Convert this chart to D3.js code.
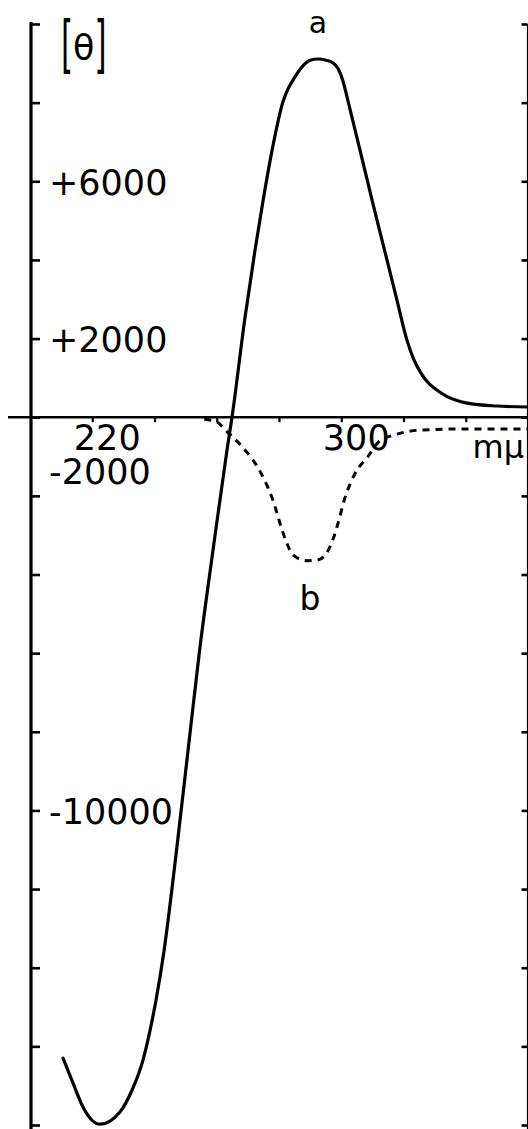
<!DOCTYPE html>
<html>
<head>
<meta charset="utf-8">
<script src="https://cdn.jsdelivr.net/npm/d3@7"></script>
<style>
  html, body { margin: 0; padding: 0; background: #fff; }
  svg { display: block; }
  text { font-family: "DejaVu Sans", sans-serif; fill: #000; }
</style>
</head>
<body>
<svg id="chart" width="528" height="1129"></svg>
<script>
// ---- data ----
const wavelengthsA = [210.6, 213.8, 217.0, 222.5, 228.9, 232.8, 236.3, 238.6, 240.5, 243.1, 247.1, 250.8, 254.5, 258.8, 263.3, 264.9, 269.1, 272.3, 274.9, 277.8, 281.3, 282.9, 285.1, 287.4, 290.0, 292.5, 295.1, 297.4, 299.0, 300.6, 302.2, 306.0, 309.9, 313.9, 317.9, 321.1, 323.4, 325.6, 332.1, 340.4, 350.0, 360.0];
const thetaA = [-16300, -16930, -17540, -17980, -17670, -17110, -16350, -15580, -14820, -13550, -11000, -8460, -5920, -3380, -830, 0, 2550, 4250, 5520, 6800, 8030, 8350, 8650, 8910, 9080, 9110, 9080, 9010, 8860, 8540, 8030, 6800, 5520, 4250, 2980, 1960, 1450, 1120, 615, 360, 285, 260];

const wavelengthsB = [256, 260, 263.5, 268.5, 274, 278, 281, 282.5, 284.5, 289, 292.5, 295.5, 297.5, 299, 301, 304.5, 308.5, 312, 318, 325, 338, 360];
const thetaB = [-50, -120, -380, -780, -1390, -2100, -2870, -3200, -3500, -3650, -3630, -3430, -3070, -2690, -2100, -1420, -1010, -630, -430, -330, -300, -300];

const yTickValues = [10000, 8000, 6000, 4000, 2000, 0, -2000, -4000, -6000, -8000, -10000, -12000, -14000, -16000, -18000];
const yTickLabels = [6000, 2000, -2000, -10000];
const xTickValues = [220, 240, 260, 280, 300, 320, 340];
const xTickLabels = [220, 300];
const seriesNames = ["a", "b"];
const yAxisTitle = "θ";
const xUnit = "mμ";

// ---- scales ----
const svg = d3.select("#chart");
const x = d3.scaleLinear().domain([200, 360]).range([30, 528]);
const y = d3.scaleLinear().domain([-18000, 10000]).range([1125, 24]);

// left axis
const leftAxis = svg.append("g").attr("transform", `translate(${x(200) + 1},0)`)
  .call(d3.axisRight(y).tickValues(yTickValues).tickSize(9).tickFormat(""));
leftAxis.select(".domain").attr("d", `M0,${y(10000) - 2}V1129`).attr("stroke-width", 3.2);
leftAxis.selectAll(".tick line").attr("stroke-width", 2.6);

// right axis
const rightAxis = svg.append("g").attr("transform", `translate(527.5,0)`)
  .call(d3.axisLeft(y).tickValues(yTickValues).tickSize(6).tickFormat(""));
rightAxis.select(".domain").attr("d", `M0,${y(10000)}V1129`).attr("stroke-width", 1.2);
rightAxis.selectAll(".tick line").attr("stroke-width", 2.6);

// zero line with small downward ticks
const xAxis = svg.append("g").attr("transform", `translate(0,${y(0)})`)
  .call(d3.axisBottom(x).tickValues(xTickValues).tickSize(5).tickFormat(""));
xAxis.select(".domain").attr("d", `M8,0H528`).attr("stroke-width", 2.4);
xAxis.selectAll(".tick line").attr("stroke-width", 2.2);

// y tick labels
const yLabelShift = v => (v === -2000 ? -12 : 13.5);
svg.selectAll("text.ylab").data(yTickLabels).join("text")
  .attr("class", "ylab")
  .attr("x", 49)
  .attr("y", d => y(d) + yLabelShift(d))
  .attr("font-size", 35)
  .text(d => (d > 0 ? "+" : "-") + Math.abs(d));

// x tick labels
svg.selectAll("text.xlab").data(xTickLabels).join("text")
  .attr("class", "xlab")
  .attr("x", d => x(d) + 15)
  .attr("y", y(0) + 33)
  .attr("text-anchor", "middle")
  .attr("font-size", 35)
  .text(d => d);

// unit
svg.append("text")
  .attr("x", x(360) - 4)
  .attr("y", y(0) + 41)
  .attr("text-anchor", "end")
  .attr("font-size", 32)
  .text(xUnit);

// [θ] title: condensed tall brackets around theta
svg.append("text").attr("transform", "translate(61,65) scale(0.5,1)")
  .attr("font-size", 62).text("[");
svg.append("text").attr("x", 73).attr("y", 60)
  .attr("font-size", 35).text(yAxisTitle);
svg.append("text").attr("transform", "translate(94.5,65) scale(0.5,1)")
  .attr("font-size", 62).text("]");

// curves
const line = d3.line().x(d => x(d[0])).y(d => y(d[1])).curve(d3.curveMonotoneX);
const dataA = wavelengthsA.map((w, i) => [w, thetaA[i]]);
const dataB = wavelengthsB.map((w, i) => [w, thetaB[i]]);

svg.append("path").datum(dataA).attr("d", line)
  .attr("fill", "none").attr("stroke", "#000").attr("stroke-width", 3.2)
  .attr("stroke-linecap", "round").attr("stroke-linejoin", "round");

svg.append("path").datum(dataB).attr("d", line)
  .attr("fill", "none").attr("stroke", "#000").attr("stroke-width", 3)
  .attr("stroke-dasharray", "7,6");

// series labels
const peakA = dataA.reduce((m, d) => (d[1] > m[1] ? d : m));
const minB = dataB.reduce((m, d) => (d[1] < m[1] ? d : m));
svg.append("text").attr("x", x(peakA[0])).attr("y", y(peakA[1]) - 26)
  .attr("text-anchor", "middle").attr("font-size", 30).text(seriesNames[0]);
svg.append("text").attr("x", x(minB[0]) + 3).attr("y", y(minB[1]) + 49)
  .attr("text-anchor", "middle").attr("font-size", 33).text(seriesNames[1]);
</script>
</body>
</html>
